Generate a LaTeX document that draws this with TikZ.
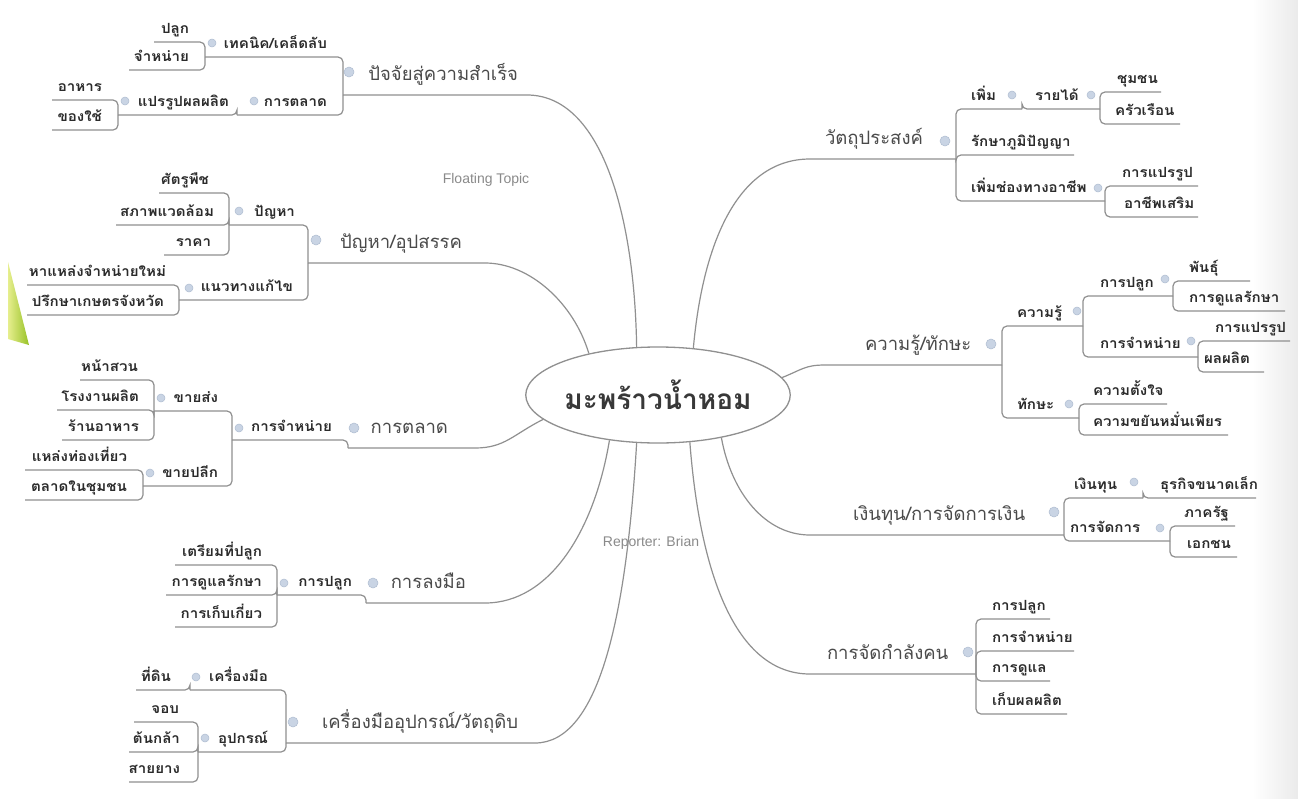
\documentclass[tikz,border=0pt]{standalone}
\usepackage{fontspec}
\newfontfamily\thaifont[Script=Thai]{Loma}
\newfontfamily\thaisub[Script=Thai, FakeStretch=1.08]{Loma}
\newfontfamily\latinfont{Liberation Sans}
\usetikzlibrary{shapes.geometric}
\definecolor{lnc}{HTML}{909090}
\definecolor{subc}{HTML}{2B2B2B}
\definecolor{mainc}{HTML}{4A4A4A}
\definecolor{rootc}{HTML}{383838}
\definecolor{notec}{HTML}{8A8A8A}
\definecolor{mkc}{HTML}{C9D4E4}
\definecolor{mkd}{HTML}{AEBCD0}
\definecolor{grnL}{HTML}{E6EE8E}
\definecolor{grnR}{HTML}{98C226}
% left topic: style, name, xl, xr, underline y, text right edge, text
\newcommand\LT[7]{%
  \pgfmathsetmacro\ulen{#4-#3}\pgfmathsetmacro\upad{#4-#6}%
  \node[#1] (#2) at (#3,#5) {\makebox[\ulen pt][r]{#7\hspace*{\upad pt}}};}
% right topic: style, name, xl, xr, underline y, text left edge, text
\newcommand\RT[7]{%
  \pgfmathsetmacro\ulen{#4-#3}\pgfmathsetmacro\upad{#6-#3}%
  \node[#1] (#2) at (#3,#5) {\makebox[\ulen pt][l]{\hspace*{\upad pt}#7}};}
\tikzset{
  base/.style={inner sep=0pt, outer sep=0pt, anchor=south west},
  sub/.style={base, font=\thaisub\bfseries\fontsize{14}{16}\selectfont, text=subc, text depth=9pt, text height=10pt},
  maint/.style={base, font=\thaifont\fontsize{18.5}{20}\selectfont, text=mainc, text depth=15pt, text height=14pt},
  br/.style={draw=lnc, line width=1.2pt, rounded corners=5pt},
  mk/.style={circle, inner sep=0pt, minimum size=8pt, fill=mkc, draw=mkd, line width=0.5pt},
  mkm/.style={mk, minimum size=10pt},
  rootnode/.style={ellipse, draw=lnc, line width=1.3pt, minimum width=256pt, minimum height=96pt, inner sep=0pt,
    font=\thaifont\bfseries\fontsize{28}{30}\selectfont, text=rootc},
  note/.style={font=\latinfont\fontsize{14}{16}\selectfont, text=notec, inner sep=0pt},
}
\begin{document}
\begin{tikzpicture}[x=1pt,y=-1pt]
\useasboundingbox (0,0) rectangle (1298,798);
\fill[white] (0,0) rectangle (1298,798);
\shade[left color=white, right color=black!8] (1252,0) rectangle (1298,798);
\shade[left color=grnL, right color=grnR] (8,262) -- (29,345) -- (8,339) -- cycle;

% root
\node[rootnode] (root) at (658,395) {\raisebox{-3pt}{มะพร้าวน้ำหอม}};
\node[note] (ft) at (486,180) {Floating Topic};
\node[note] (rep) at (651,543) {Reporter: Brian};

% ---- A
\LT{maint}{A}{343}{522}{95}{518}{ปัจจัยสู่ความสำเร็จ}
\LT{sub}{A1}{205}{343}{57}{327}{เทคนิค/เคล็ดลับ}
\LT{sub}{A2}{237}{343}{115}{327}{การตลาด}
\LT{sub}{A11}{154}{205}{42}{189}{ปลูก}
\LT{sub}{A12}{129}{205}{70}{189}{จำหน่าย}
\LT{sub}{A21}{118}{237}{115}{229}{แปรรูปผลผลิต}
\LT{sub}{A211}{52}{118}{100}{102}{อาหาร}
\LT{sub}{A212}{52}{118}{130}{102}{ของใช้}
% ---- B
\LT{maint}{B}{308}{480}{263}{462}{ปัญหา/อุปสรรค}
\LT{sub}{B1}{229}{308}{225}{295}{ปัญหา}
\LT{sub}{B2}{179}{308}{300}{293}{แนวทางแก้ไข}
\LT{sub}{B11}{159}{229}{193}{209}{ศัตรูพืช}
\LT{sub}{B12}{116}{229}{225}{214}{สภาพแวดล้อม}
\LT{sub}{B13}{164}{229}{255}{211}{ราคา}
\LT{sub}{B21}{27}{179}{285}{166}{หาแหล่งจำหน่ายใหม่}
\LT{sub}{B22}{27}{179}{315}{164}{ปรึกษาเกษตรจังหวัด}
% ---- C
\LT{maint}{C}{348}{470}{448}{448}{การตลาด}
\LT{sub}{C1}{232}{348}{440}{332}{การจำหน่าย}
\LT{sub}{C11}{154}{232}{411}{218}{ขายส่ง}
\LT{sub}{C12}{143}{232}{486}{218}{ขายปลีก}
\LT{sub}{C111}{80}{154}{380}{138}{หน้าสวน}
\LT{sub}{C112}{57}{154}{410}{139}{โรงงานผลิต}
\LT{sub}{C113}{62}{154}{440}{139}{ร้านอาหาร}
\LT{sub}{C121}{25}{143}{470}{127}{แหล่งท่องเที่ยว}
\LT{sub}{C122}{25}{143}{500}{127}{ตลาดในชุมชน}
% ---- D
\LT{maint}{D}{366}{480}{603}{466}{การลงมือ}
\LT{sub}{D1}{277}{366}{595}{352}{การปลูก}
\LT{sub}{D11}{175}{277}{565}{262}{เตรียมที่ปลูก}
\LT{sub}{D12}{166}{277}{595}{262}{การดูแลรักษา}
\LT{sub}{D13}{175}{277}{627}{262}{การเก็บเกี่ยว}
% ---- E
\LT{maint}{E}{286}{530}{743}{518}{เครื่องมืออุปกรณ์/วัตถุดิบ}
\LT{sub}{E1}{190}{286}{690}{268}{เครื่องมือ}
\LT{sub}{E2}{198}{286}{752}{268}{อุปกรณ์}
\LT{sub}{E11}{136}{190}{690}{171}{ที่ดิน}
\LT{sub}{E21}{134}{198}{722}{179}{จอบ}
\LT{sub}{E22}{129}{198}{752}{180}{ต้นกล้า}
\LT{sub}{E23}{129}{198}{782}{180}{สายยาง}
% ---- F
\RT{maint}{F}{815}{956}{159}{825}{วัตถุประสงค์}
\RT{sub}{F1}{956}{1022}{109}{971}{เพิ่ม}
\RT{sub}{F11}{1022}{1100}{109}{1035}{รายได้}
\RT{sub}{F111}{1100}{1161}{92}{1117}{ชุมชน}
\RT{sub}{F112}{1100}{1180}{124}{1115}{ครัวเรือน}
\RT{sub}{F2}{956}{1074}{155}{971}{รักษาภูมิปัญญา}
\RT{sub}{F3}{956}{1105}{201}{971}{เพิ่มช่องทางอาชีพ}
\RT{sub}{F31}{1105}{1198}{186}{1122}{การแปรรูป}
\RT{sub}{F32}{1105}{1198}{217}{1124}{อาชีพเสริม}
% ---- G
\RT{maint}{G}{830}{1002}{365}{865}{ความรู้/ทักษะ}
\RT{sub}{G1}{1002}{1083}{326}{1017}{ความรู้}
\RT{sub}{G11}{1083}{1173}{296}{1100}{การปลูก}
\RT{sub}{G111}{1173}{1250}{281}{1189}{พันธุ์}
\RT{sub}{G112}{1173}{1285}{311}{1189}{การดูแลรักษา}
\RT{sub}{G12}{1083}{1198}{357}{1100}{การจำหน่าย}
\RT{sub}{G121}{1198}{1290}{341}{1215}{การแปรรูป}
\RT{sub}{G122}{1198}{1264}{372}{1204}{ผลผลิต}
\RT{sub}{G2}{1002}{1079}{418}{1017}{ทักษะ}
\RT{sub}{G21}{1079}{1167}{404}{1093}{ความตั้งใจ}
\RT{sub}{G22}{1079}{1228}{435}{1093}{ความขยันหมั่นเพียร}
% ---- H
\RT{maint}{H}{815}{1064}{535}{853}{เงินทุน/การจัดการเงิน}
\RT{sub}{H1}{1064}{1143}{498}{1074}{เงินทุน}
\RT{sub}{H11}{1143}{1256}{498}{1160}{ธุรกิจขนาดเล็ก}
\RT{sub}{H2}{1064}{1170}{541}{1070}{การจัดการ}
\RT{sub}{H21}{1170}{1235}{526}{1184}{ภาครัฐ}
\RT{sub}{H22}{1170}{1237}{557}{1187}{เอกชน}
% ---- I
\RT{maint}{I}{815}{976}{674}{827}{การจัดกำลังคน}
\RT{sub}{I1}{976}{1050}{619}{992}{การปลูก}
\RT{sub}{I2}{976}{1074}{651}{992}{การจำหน่าย}
\RT{sub}{I3}{976}{1050}{681}{992}{การดูแล}
\RT{sub}{I4}{976}{1067}{714}{992}{เก็บผลผลิต}

% markers
\node[mkm] (mA) at (349,72) {};
\node[mk] (mA1) at (212,43) {};
\node[mk] (mA2) at (254,101) {};
\node[mk] (mA21) at (125,101) {};
\node[mkm] (mB) at (316,240) {};
\node[mk] (mB1) at (239,211) {};
\node[mk] (mB2) at (189,288) {};
\node[mkm] (mC) at (354,428) {};
\node[mk] (mC1) at (239,428) {};
\node[mk] (mC11) at (161,398) {};
\node[mk] (mC12) at (150,473) {};
\node[mkm] (mD) at (373,583) {};
\node[mk] (mD1) at (284,583) {};
\node[mkm] (mE) at (293,722) {};
\node[mk] (mE1) at (196,677) {};
\node[mk] (mE2) at (205,738) {};
\node[mkm] (mF) at (945,141) {};
\node[mk] (mF1) at (1012,95) {};
\node[mk] (mF11) at (1091,95) {};
\node[mk] (mF3) at (1098,188) {};
\node[mkm] (mG) at (991,344) {};
\node[mk] (mG1) at (1077,311) {};
\node[mk] (mG11) at (1165,279) {};
\node[mk] (mG12) at (1191,341) {};
\node[mk] (mG2) at (1069,404) {};
\node[mkm] (mH) at (1054,512) {};
\node[mk] (mH1) at (1134,482) {};
\node[mk] (mH2) at (1160,528) {};
\node[mkm] (mI) at (968,652) {};

% main connectors
\draw[br] (root.114) .. controls +(-2,-130) and +(80,0) .. (A.south east) -- (A.south west);
\draw[br] (root.149) .. controls +(-15,-50) and +(50,0) .. (B.south east) -- (B.south west);
\draw[br] (root.192) .. controls +(-30,15) and +(35,0) .. (C.south east) -- (C.south west);
\draw[br] (root.223) .. controls +(-15,90) and +(70,0) .. (D.south east) -- (D.south west);
\draw[br] (root.246) .. controls +(-10,170) and +(70,0) .. (E.south east) -- (E.south west);
\draw[br] (root.53) .. controls +(10,-110) and +(-75,0) .. (F.south west) -- (F.south east);
\draw[br] (root.8.5) .. controls +(20,-8) and +(-25,0) .. (G.south west) -- (G.south east);
\draw[br] (root.326) .. controls +(10,55) and +(-50,0) .. (H.south west) -- (H.south east);
\draw[br] (root.304.5) .. controls +(10,130) and +(-80,0) .. (I.south west) -- (I.south east);

% left branches
\foreach \p/\c in {A/A1,A/A2,A1/A11,A1/A12,A2/A21,A21/A211,A21/A212,
  B/B1,B/B2,B1/B11,B1/B12,B1/B13,B2/B21,B2/B22,
  C/C1,C1/C11,C1/C12,C11/C111,C11/C112,C11/C113,C12/C121,C12/C122,
  D/D1,D1/D11,D1/D12,D1/D13,
  E/E1,E/E2,E1/E11,E2/E21,E2/E22,E2/E23}
  \draw[br] (\p.south west) |- (\c.south west);
% right branches
\foreach \p/\c in {F/F1,F/F2,F/F3,F1/F11,F11/F111,F11/F112,F3/F31,F3/F32,
  G/G1,G/G2,G1/G11,G1/G12,G11/G111,G11/G112,G12/G121,G12/G122,G2/G21,G2/G22,
  H/H1,H/H2,H1/H11,H2/H21,H2/H22,
  I/I1,I/I2,I/I3,I/I4}
  \draw[br] (\p.south east) |- (\c.south east);
\end{tikzpicture}
\end{document}
